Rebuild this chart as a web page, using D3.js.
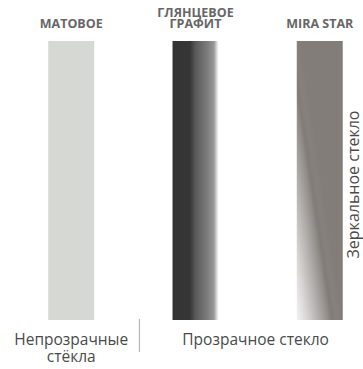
<!DOCTYPE html>
<html>
<head>
<meta charset="utf-8">
<script src="https://cdn.jsdelivr.net/npm/d3@7"></script>
<style>
  body { margin: 0; background: #fff; }
  svg { display: block; font-family: "Open Sans", sans-serif; }
</style>
</head>
<body>
<svg id="chart"></svg>
<script>
const width = 363;
const height = 369;

// glass types, left to right
const categories = ["matte", "graphite", "mira"];
const titles = [["МАТОВОЕ"], ["ГЛЯНЦЕВОЕ", "ГРАФИТ"], ["MIRA STAR"]];
const fills = ["#d5d8d3", "url(#grad-graphite)", "url(#grad-mira)"];
const groupLabels = [["Непрозрачные", "стёкла"], ["Прозрачное стекло"]];
const groupSpans = [[0, 0], [1, 2]];
const sideLabel = "Зеркальное стекло";

const svg = d3.select("#chart").attr("width", width).attr("height", height);

const x = d3.scaleBand().domain(categories).range([6, 385]).paddingInner(0.63).paddingOuter(0.34);
const y = d3.scaleLinear().domain([0, 1]).range([320, 41]);

const defs = svg.append("defs");

const g1 = defs.append("linearGradient").attr("id", "grad-graphite")
  .attr("x1", 0).attr("y1", 0).attr("x2", 1).attr("y2", 0);
[[0, "#333"], [0.38, "#363636"], [0.5, "#595959"], [0.75, "#7b7b7b"], [0.9, "#979797"], [0.96, "#d8d8d8"], [1, "#fafafa"]]
  .forEach(s => g1.append("stop").attr("offset", s[0]).attr("stop-color", s[1]));

const g2 = defs.append("linearGradient").attr("id", "grad-mira")
  .attr("x1", 0).attr("y1", 1).attr("x2", 0.55).attr("y2", 0.5);
[[0, "#f4f3f5"], [0.25, "#d4d1d0"], [0.5, "#aeaaa7"], [0.68, "#928d89"], [0.76, "#817c77"], [0.86, "#86817c"], [1, "#827d78"]]
  .forEach(s => g2.append("stop").attr("offset", s[0]).attr("stop-color", s[1]));

svg.append("g")
  .selectAll("rect")
  .data(categories)
  .join("rect")
  .attr("x", d => x(d))
  .attr("y", y(1))
  .attr("width", x.bandwidth())
  .attr("height", y(0) - y(1))
  .attr("fill", (d, i) => fills[i]);

// titles above bars
svg.append("g")
  .selectAll("text")
  .data(categories)
  .join("text")
  .attr("x", d => x(d) + x.bandwidth() / 2)
  .attr("y", 28)
  .attr("text-anchor", "middle")
  .attr("font-size", 12.5)
  .attr("font-weight", 700)
  .attr("fill", "#666")
  .each(function(d, i) {
    const lines = titles[i];
    d3.select(this).selectAll("tspan")
      .data(lines)
      .join("tspan")
      .attr("x", x(d) + x.bandwidth() / 2)
      .attr("dy", (l, j) => j === 0 ? -(lines.length - 1) * 11 : 11)
      .text(l => l);
  });

// group labels under bars
svg.append("g")
  .selectAll("text")
  .data(groupLabels)
  .join("text")
  .attr("text-anchor", "middle")
  .attr("font-size", 15.5)
  .attr("fill", "#4a4a4a")
  .each(function(lines, i) {
    const s = groupSpans[i];
    const cx = i === 0 ? x(categories[s[0]]) + x.bandwidth() / 2
      : (x(categories[s[0]]) + x(categories[s[1]]) + x.bandwidth()) / 2 - 2;
    d3.select(this).selectAll("tspan")
      .data(lines)
      .join("tspan")
      .attr("x", cx)
      .attr("y", (l, j) => 345 + j * 17)
      .text(l => l);
  });

// divider between groups
const divX = (x(categories[0]) + x.bandwidth() + x(categories[1])) / 2 + 6;
svg.append("line")
  .attr("x1", divX).attr("x2", divX)
  .attr("y1", 319).attr("y2", 352)
  .attr("stroke", "#aaa").attr("stroke-width", 1);

// side label
svg.append("text")
  .attr("transform", `translate(${x("mira") + x.bandwidth() + 16.5},${(y(0) + y(1)) / 2 + 4}) rotate(-90)`)
  .attr("text-anchor", "middle")
  .attr("font-size", 16)
  .attr("fill", "#4a4a4a")
  .text(sideLabel);
</script>
</body>
</html>
